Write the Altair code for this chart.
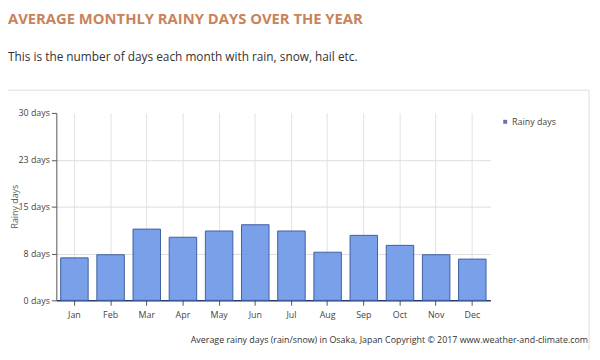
import altair as alt
import pandas as pd

months = ["Jan", "Feb", "Mar", "Apr", "May", "Jun", "Jul", "Aug", "Sep", "Oct", "Nov", "Dec"]
rainy_days = [6.8, 7.3, 11.4, 10.1, 11.1, 12.1, 11.1, 7.7, 10.4, 8.8, 7.3, 6.6]
y_ticks = [0, 7.5, 15, 22.5, 30]

title_text = "AVERAGE MONTHLY RAINY DAYS OVER THE YEAR"
subtitle_text = "This is the number of days each month with rain, snow, hail etc."
y_title = "Rainy days"
legend_text = "Rainy days"
footer_text = "Average rainy days (rain/snow) in Osaka, Japan   Copyright \u00a9 2017 www.weather-and-climate.com"

df = pd.DataFrame({"month": months, "days": rainy_days})
one = pd.DataFrame({"k": [0]})

FONT = "Open Sans"

bars = alt.Chart(df).mark_bar(
    color="#6f98e8", stroke="#3f5f9f", strokeWidth=1, fillOpacity=0.92
).encode(
    x=alt.X("month:N", sort=months, title=None,
            scale=alt.Scale(paddingInner=0.24, paddingOuter=0.12),
            axis=alt.Axis(labelAngle=0, grid=True, bandPosition=0.5, gridColor="#e2e2e2",
                          domainColor="#2a3d70", domainWidth=1.5, tickColor="#555", tickSize=5,
                          labelFont=FONT, labelFontSize=9, labelColor="#444", labelPadding=5)),
    y=alt.Y("days:Q", title=None,
            scale=alt.Scale(domain=[0, 30], nice=False),
            axis=alt.Axis(values=y_ticks, labelExpr="round(datum.value) + ' days'",
                          grid=True,
                          gridColor=alt.condition("datum.value >= 30", alt.value("transparent"), alt.value("#dcdcdc")),
                          domainColor="#555", tickColor="#555", tickSize=5,
                          labelFont=FONT, labelFontSize=9, labelColor="#444", labelPadding=2)),
)

def txt(text, x, y, size, color, align="left", baseline="alphabetic", weight="normal", angle=0):
    kw = dict(text=text, align=align, baseline=baseline, fontSize=size, color=color,
              font=FONT, fontWeight=weight)
    if angle:
        kw["angle"] = angle
    return alt.Chart(one).mark_text(**kw).encode(x=alt.value(x), y=alt.value(y))

frame = alt.Chart(one).mark_rect(fill="transparent", stroke="#dddddd", strokeWidth=1).encode(
    x=alt.value(-70), x2=alt.value(540), y=alt.value(-23), y2=alt.value(300))

title = txt(title_text, -49, -90, 15, "#c8835c", weight="bold")
subtitle = txt(subtitle_text, -49, -53, 12, "#333333")
ytitle = txt(y_title, -42, 95, 9, "#555555", align="center", baseline="middle", angle=270)
leg_sym = alt.Chart(one).mark_square(color="#1f3a8a", size=16).encode(x=alt.value(455), y=alt.value(9))
leg_txt = txt(legend_text, 462, 9, 9, "#444444", baseline="middle")
footer = txt(footer_text, 539, 230, 9, "#333333", align="right", baseline="middle")

chart = alt.layer(frame, bars, title, subtitle, ytitle, leg_sym, leg_txt, footer).properties(
    width=440, height=190,
    autosize=alt.AutoSizeParams(type="none"),
    padding={"left": 49, "top": 104, "right": 103, "bottom": 48},
).configure_view(stroke=None)

chart.save("out.html", embed_options={"renderer": "svg", "actions": False})
